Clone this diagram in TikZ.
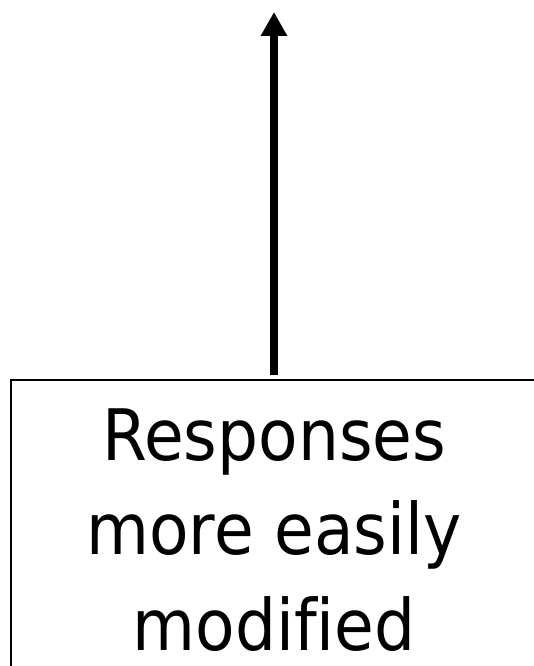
\documentclass[tikz,border=0pt]{standalone}
\usepackage{fontspec}
\setmainfont[FakeStretch=0.91,Ligatures=NoCommon]{DejaVu Sans}
\usetikzlibrary{arrows.meta}
\begin{document}
\begin{tikzpicture}[x=1pt,y=1pt,
  boxstyle/.style={draw=black, line width=1.8pt, anchor=north west, minimum width=560pt, minimum height=340pt, inner sep=0pt},
  linestyle/.style={anchor=base, inner sep=0pt, font=\fontsize{71}{80}\selectfont},
  arrowstyle/.style={line width=8pt, -{Triangle[length=24pt,width=25pt]}}]
  \useasboundingbox (0,0) rectangle (534,-666);
  \clip (0,0) rectangle (534,-666);
  \node[boxstyle] (box) at (10,-379) {};
  \node[linestyle] (l1) at (274,-460) {Responses};
  \node[linestyle] (l2) at (274,-554) {more easily};
  \node[linestyle] (l3) at (274,-650) {modified};
  \coordinate (tip) at (274,-12);
  \draw[arrowstyle, shorten <=4pt] (l1.north |- box.north) -- (tip);
\end{tikzpicture}
\end{document}
